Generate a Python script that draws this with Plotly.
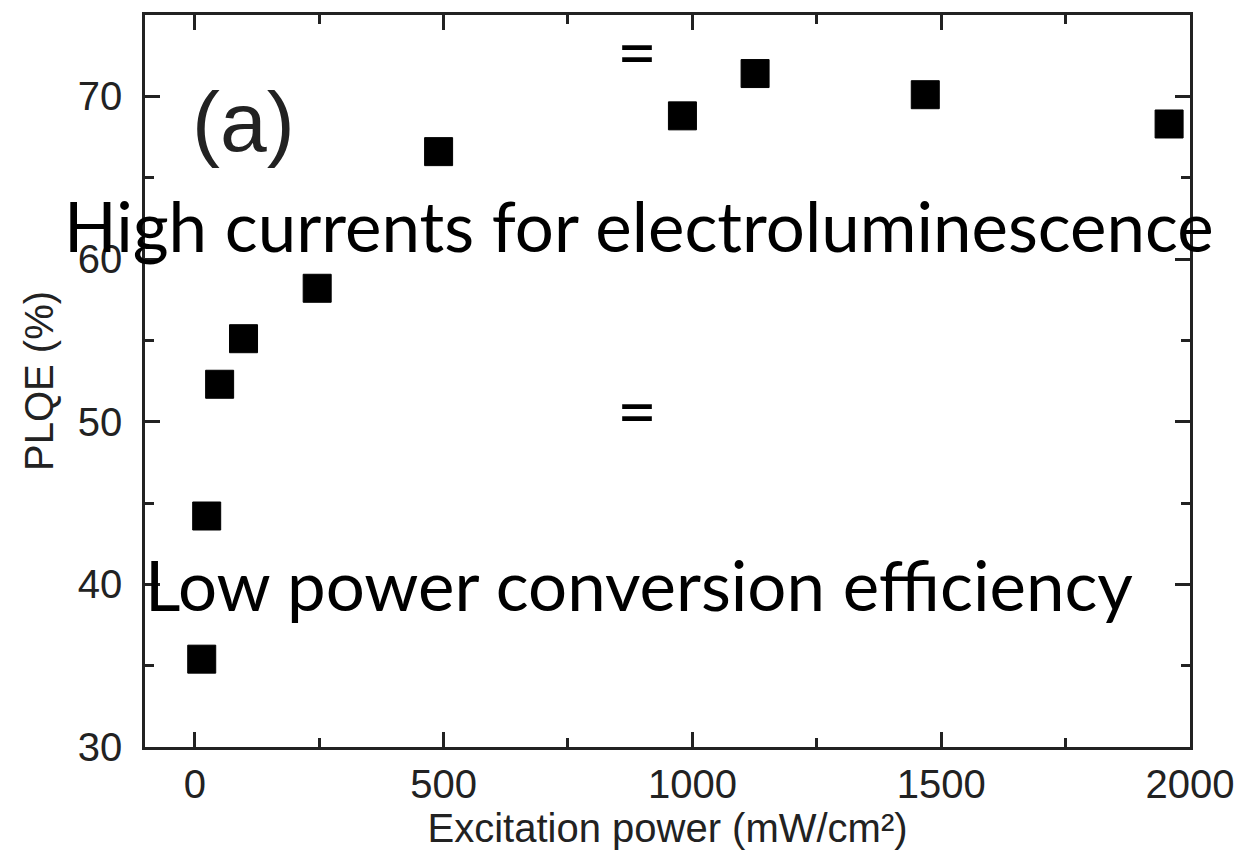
import plotly.graph_objects as go

# Data
excitation_power = [14, 24, 50, 98, 246, 490, 980, 1126, 1468, 1958]
plqe = [35.4, 44.2, 52.3, 55.1, 58.2, 66.6, 68.8, 71.4, 70.1, 68.3]

x_ticks = [0, 500, 1000, 1500, 2000]
y_ticks = [30, 40, 50, 60, 70]

panel_label = "(a)"
overlay_top = "High currents for electroluminescence"
overlay_bottom = "Low power conversion efficiency"
equals_sign = "="

W, H = 1246, 854
L, R, T, B = 145, 50, 14, 107
pw, ph = W - L - R, H - T - B


def px(xp):
    return (xp - L) / pw


def py(yp):
    return (H - B - yp) / ph


fig = go.Figure()
fig.add_trace(go.Scatter(
    x=excitation_power, y=plqe, mode="markers",
    marker=dict(symbol="square", size=28, color="black",
                line=dict(color="black", width=1)),
    showlegend=False, hoverinfo="skip"))

axis_common = dict(
    showgrid=False, zeroline=False, showline=True, linecolor="#222",
    linewidth=2.5, mirror="ticks", ticks="inside", ticklen=15, tickwidth=2.5,
    tickcolor="#222",
    tickfont=dict(family="Liberation Sans", size=40, color="#222"),
    title_font=dict(family="Liberation Sans", size=40, color="#222"),
)

fig.update_xaxes(
    range=[-100, 2000], tickvals=x_ticks,
    ticktext=[str(v) for v in x_ticks],
    minor=dict(ticks="inside", ticklen=9, tickwidth=2.5, tickcolor="#222", dtick=250, tick0=0),
    title_text="Excitation power (mW/cm²)", title_standoff=2,
    ticklabelstandoff=0,
    **axis_common)
fig.update_yaxes(
    range=[30, 75], tickvals=y_ticks,
    ticktext=[str(v) for v in y_ticks],
    minor=dict(ticks="inside", ticklen=9, tickwidth=2.5, tickcolor="#222", dtick=5, tick0=30),
    title_text="PLQE (%)", title_standoff=12,
    ticklabelstandoff=12,
    **axis_common)

ann_font = dict(family="Lato, Open Sans, sans-serif", size=69, color="black")
fig.add_annotation(x=px(244), y=py(121), xref="paper", yref="paper",
                   text=panel_label, showarrow=False,
                   font=dict(family="Liberation Sans", size=84, color="#222"),
                   xanchor="center", yanchor="middle")
fig.add_annotation(x=px(642), y=py(225), xref="paper", yref="paper",
                   text=overlay_top, showarrow=False, font=ann_font,
                   xanchor="center", yanchor="middle")
fig.add_annotation(x=px(642), y=py(584), xref="paper", yref="paper",
                   text=overlay_bottom, showarrow=False, font=ann_font,
                   xanchor="center", yanchor="middle")
fig.add_annotation(x=px(640), y=py(50), xref="paper", yref="paper",
                   text=equals_sign, showarrow=False, font=ann_font,
                   xanchor="center", yanchor="middle")
fig.add_annotation(x=px(640), y=py(409), xref="paper", yref="paper",
                   text=equals_sign, showarrow=False, font=ann_font,
                   xanchor="center", yanchor="middle")

fig.update_layout(
    width=W, height=H,
    margin=dict(l=L, r=R, t=T, b=B),
    paper_bgcolor="white", plot_bgcolor="white",
)

fig.write_html("out.html")
